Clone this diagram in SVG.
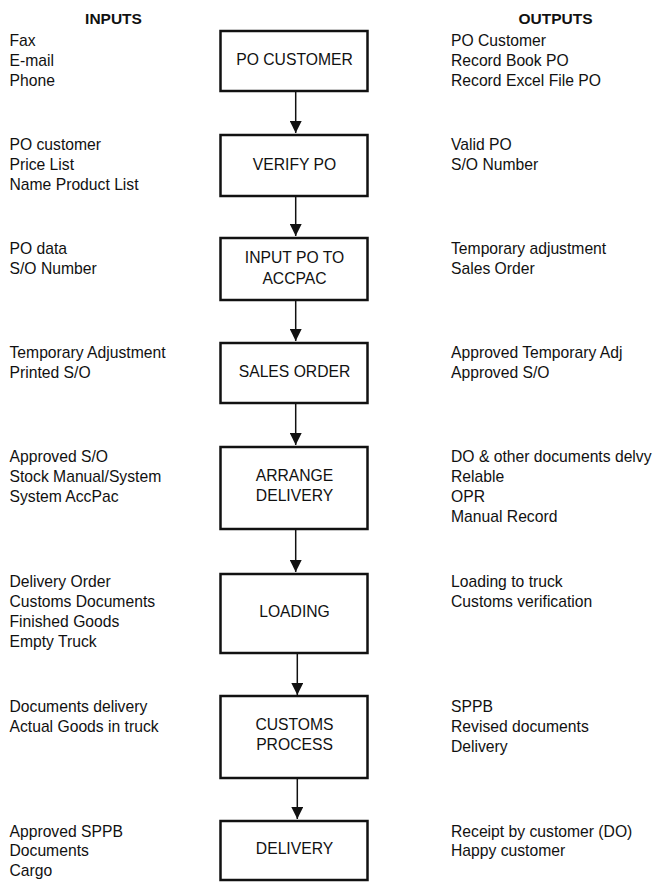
<svg xmlns="http://www.w3.org/2000/svg" width="653" height="883" viewBox="0 0 653 883">
<style>
  text { font-family: "Liberation Sans", Arial, sans-serif; font-size: 15.7px; fill: #111; }
  .hdr { font-weight: bold; text-anchor: middle; font-size: 15.5px; }
  .lbl { text-anchor: middle; }
  .box { fill: #fff; stroke: #111; stroke-width: 2.5; }
  .conn { stroke: #111; stroke-width: 1.5; fill: none; }
</style>
<defs>
  <marker id="ah" markerWidth="12" markerHeight="12" viewBox="0 0 12 12" refX="12" refY="6" orient="auto" markerUnits="userSpaceOnUse">
    <path d="M0,0 L12,6 L0,12 Z" fill="#111"/>
  </marker>
</defs>
<rect width="653" height="883" fill="#fff"/>

<g id="headers">
  <text class="hdr" x="113.5" y="24">INPUTS</text>
  <text class="hdr" x="555.5" y="24">OUTPUTS</text>
</g>

<g id="connectors">
  <line class="conn" x1="295.7" y1="92" x2="295.7" y2="133" marker-end="url(#ah)"/>
  <line class="conn" x1="295.7" y1="197" x2="295.7" y2="236" marker-end="url(#ah)"/>
  <line class="conn" x1="295.7" y1="301" x2="295.7" y2="341" marker-end="url(#ah)"/>
  <line class="conn" x1="295.7" y1="404" x2="295.7" y2="445" marker-end="url(#ah)"/>
  <line class="conn" x1="295.7" y1="530" x2="295.7" y2="572" marker-end="url(#ah)"/>
  <line class="conn" x1="297.3" y1="651" x2="297.3" y2="695" marker-end="url(#ah)"/>
  <line class="conn" x1="297.3" y1="775" x2="297.3" y2="819" marker-end="url(#ah)"/>
</g>

<g id="node-po-customer">
  <text x="9.5" y="46">Fax</text>
  <text x="9.5" y="66">E-mail</text>
  <text x="9.5" y="86">Phone</text>
  <rect class="box" x="220.5" y="31" width="147" height="60"/>
  <text class="lbl" x="294.5" y="64.5">PO CUSTOMER</text>
  <text x="451" y="46">PO Customer</text>
  <text x="451" y="66">Record Book PO</text>
  <text x="451" y="86">Record Excel File PO</text>
</g>

<g id="node-verify-po">
  <text x="9.5" y="149.5">PO customer</text>
  <text x="9.5" y="169.5">Price List</text>
  <text x="9.5" y="189.5">Name Product List</text>
  <rect class="box" x="220.5" y="135" width="147" height="61"/>
  <text class="lbl" x="294.5" y="169.5">VERIFY PO</text>
  <text x="451" y="149.5">Valid PO</text>
  <text x="451" y="169.5">S/O Number</text>
</g>

<g id="node-input-po">
  <text x="9.5" y="254">PO data</text>
  <text x="9.5" y="274">S/O Number</text>
  <rect class="box" x="220.5" y="238" width="147" height="62"/>
  <text class="lbl" x="294.5" y="262.5">INPUT PO TO</text>
  <text class="lbl" x="294.5" y="284">ACCPAC</text>
  <text x="451" y="254">Temporary adjustment</text>
  <text x="451" y="274">Sales Order</text>
</g>

<g id="node-sales-order">
  <text x="9.5" y="358">Temporary Adjustment</text>
  <text x="9.5" y="378">Printed S/O</text>
  <rect class="box" x="220.5" y="343" width="147" height="60"/>
  <text class="lbl" x="294.5" y="376.5">SALES ORDER</text>
  <text x="451" y="358">Approved Temporary Adj</text>
  <text x="451" y="378">Approved S/O</text>
</g>

<g id="node-arrange-delivery">
  <text x="9.5" y="462">Approved S/O</text>
  <text x="9.5" y="482">Stock Manual/System</text>
  <text x="9.5" y="502">System AccPac</text>
  <rect class="box" x="220.5" y="447" width="147" height="82"/>
  <text class="lbl" x="294.5" y="481">ARRANGE</text>
  <text class="lbl" x="294.5" y="501">DELIVERY</text>
  <text x="451" y="462">DO &amp; other documents delvy</text>
  <text x="451" y="482">Relable</text>
  <text x="451" y="502">OPR</text>
  <text x="451" y="522">Manual Record</text>
</g>

<g id="node-loading">
  <text x="9.5" y="587">Delivery Order</text>
  <text x="9.5" y="607">Customs Documents</text>
  <text x="9.5" y="627">Finished Goods</text>
  <text x="9.5" y="647">Empty Truck</text>
  <rect class="box" x="220.5" y="574" width="147" height="79"/>
  <text class="lbl" x="294.5" y="617">LOADING</text>
  <text x="451" y="587">Loading to truck</text>
  <text x="451" y="607">Customs verification</text>
</g>

<g id="node-customs-process">
  <text x="9.5" y="711.5">Documents delivery</text>
  <text x="9.5" y="731.5">Actual Goods in truck</text>
  <rect class="box" x="220.5" y="696" width="147" height="82"/>
  <text class="lbl" x="294.5" y="730">CUSTOMS</text>
  <text class="lbl" x="294.5" y="750">PROCESS</text>
  <text x="451" y="711.5">SPPB</text>
  <text x="451" y="731.5">Revised documents</text>
  <text x="451" y="751.5">Delivery</text>
</g>

<g id="node-delivery">
  <text x="9.5" y="836.5">Approved SPPB</text>
  <text x="9.5" y="856">Documents</text>
  <text x="9.5" y="875.5">Cargo</text>
  <rect class="box" x="220.5" y="821" width="147" height="59"/>
  <text class="lbl" x="294.5" y="854">DELIVERY</text>
  <text x="451" y="836.5">Receipt by customer (DO)</text>
  <text x="451" y="856">Happy customer</text>
</g>
</svg>
